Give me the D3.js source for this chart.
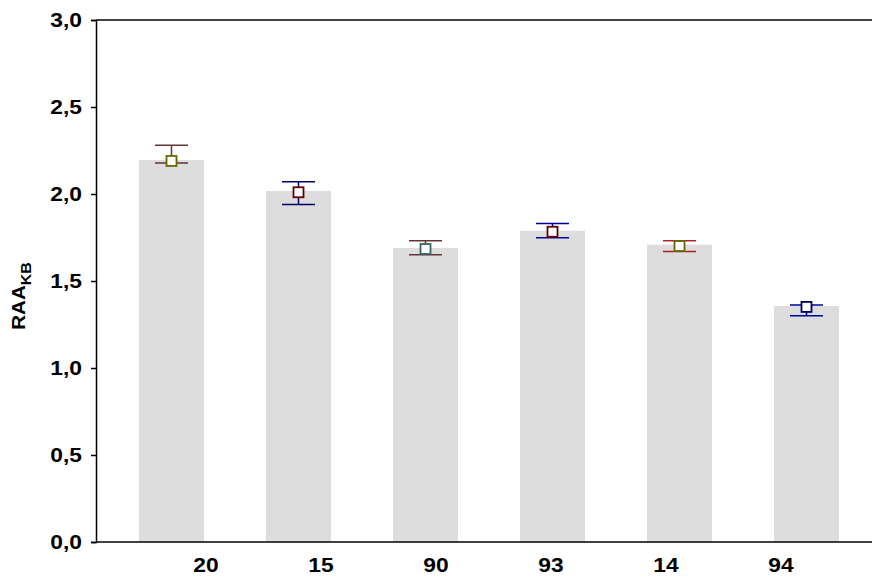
<!DOCTYPE html>
<html>
<head>
<meta charset="utf-8">
<script src="https://cdn.jsdelivr.net/npm/d3@7"></script>
<style>
  html, body { margin: 0; padding: 0; background: #fff; }
  svg { display: block; }
  text { font-family: Arial, "Liberation Sans", sans-serif; font-weight: bold; fill: #000; }
</style>
</head>
<body>
<svg id="chart" width="872" height="578"></svg>
<script>
// Samples along the x axis
const categories = ["20", "15", "90", "93", "14", "94"];
// Bar heights (RAA_KB)
const barValues = [2.195, 2.017, 1.690, 1.789, 1.709, 1.356];
// Point estimates with lower/upper error limits
const meanValues = [2.190, 2.010, 1.684, 1.783, 1.701, 1.351];
const lowerValues = [2.178, 1.940, 1.651, 1.749, 1.669, 1.300];
const upperValues = [2.280, 2.070, 1.732, 1.830, 1.732, 1.362];
// Marker and whisker colours per sample
const markerColors = ["#666600", "#660000", "#336666", "#660000", "#666600", "#000066"];
const whiskerColors = ["#663333", "#000066", "#663333", "#000099", "#aa2222", "#000099"];
// Y axis ticks
const yTicks = [0, 0.5, 1.0, 1.5, 2.0, 2.5, 3.0];

const svg = d3.select("#chart");
const plotLeft = 96, plotRight = 872, plotTop = 20, plotBottom = 542;
// the lettering is set a little wide
const stretch = 1.14;

const y = d3.scaleLinear().domain([0, 3]).range([plotBottom, plotTop]);

// Bars sit on a 127px pitch, 65px wide
const xBar = d3.scaleBand().domain(categories)
  .range([108, 108 + 127 * 6]).paddingInner(62 / 127).paddingOuter(31 / 127);

// Category labels are placed on their own evenly spaced positions
const xLabel = d3.scalePoint().domain(categories).range([206, 781]);

const fmt = v => d3.format(".1f")(v).replace(".", ",");

// bars
svg.append("g").selectAll("rect")
  .data(categories)
  .join("rect")
  .attr("x", d => xBar(d))
  .attr("width", xBar.bandwidth())
  .attr("y", (d, i) => y(barValues[i]))
  .attr("height", (d, i) => y(0) - y(barValues[i]))
  .attr("fill", "#dddddd");

// top frame line
svg.append("line")
  .attr("x1", plotLeft).attr("x2", plotRight)
  .attr("y1", y(3)).attr("y2", y(3))
  .attr("stroke", "#000").attr("stroke-width", 1.5);

// y axis
const yAxis = d3.axisLeft(y).tickValues(yTicks).tickFormat(fmt).tickSize(5).tickPadding(9);
const gy = svg.append("g").attr("transform", `translate(${plotLeft},0)`).call(yAxis);
gy.select(".domain").attr("stroke", "#000").attr("stroke-width", 1.5);
gy.selectAll(".tick line").attr("stroke", "#000").attr("stroke-width", 1.5);
gy.selectAll(".tick text")
  .style("font-size", "20px").style("font-weight", "bold")
  .attr("font-family", "Arial, 'Liberation Sans', sans-serif")
  .attr("x", -14 / stretch)
  .attr("transform", `scale(${stretch},1)`);

// x baseline
svg.append("line")
  .attr("x1", plotLeft).attr("x2", plotRight)
  .attr("y1", y(0)).attr("y2", y(0))
  .attr("stroke", "#000").attr("stroke-width", 1.5);

// x labels
svg.append("g").selectAll("text")
  .data(categories)
  .join("text")
  .attr("transform", d => `translate(${xLabel(d)},572) scale(${stretch},1)`)
  .attr("text-anchor", "middle")
  .style("font-size", "20px")
  .text(d => d);

// error bars and markers
const cx = d => xBar(d) + xBar.bandwidth() / 2;
const cap = 16.5;
const eg = svg.append("g");
categories.forEach((c, i) => {
  const g = eg.append("g");
  g.append("line")
    .attr("x1", cx(c)).attr("x2", cx(c))
    .attr("y1", y(upperValues[i])).attr("y2", y(lowerValues[i]))
    .attr("stroke", whiskerColors[i]).attr("stroke-width", 1.5);
  [upperValues[i], lowerValues[i]].forEach(v => {
    g.append("line")
      .attr("x1", cx(c) - cap).attr("x2", cx(c) + cap)
      .attr("y1", y(v)).attr("y2", y(v))
      .attr("stroke", whiskerColors[i]).attr("stroke-width", 1.5);
  });
  g.append("rect")
    .attr("x", cx(c) - 5).attr("y", y(meanValues[i]) - 5)
    .attr("width", 10).attr("height", 10)
    .attr("fill", "#fff")
    .attr("stroke", markerColors[i]).attr("stroke-width", 1.8);
});

// y axis title with subscript
svg.append("text")
  .attr("transform", `translate(25,296) rotate(-90) scale(${stretch},1)`)
  .attr("text-anchor", "middle")
  .style("font-size", "18px")
  .call(t => {
    t.append("tspan").text("RAA");
    t.append("tspan").attr("dy", 6).style("font-size", "14px").text("KB");
  });
</script>
</body>
</html>
